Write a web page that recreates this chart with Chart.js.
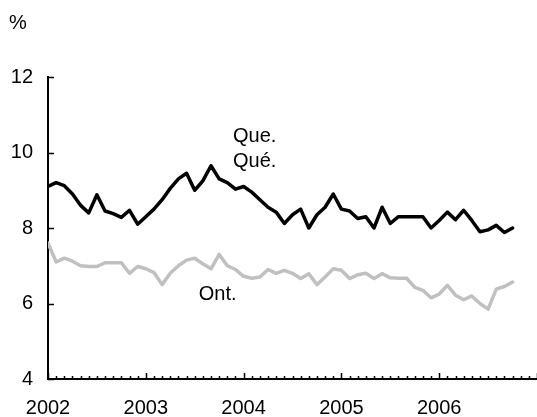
<!DOCTYPE html>
<html>
<head>
<meta charset="utf-8">
<script src="https://cdn.jsdelivr.net/npm/chart.js@4/dist/chart.umd.min.js"></script>
<style>
  html, body { margin: 0; padding: 0; background: #fff; }
  #wrap { position: relative; width: 537px; height: 417px; }
</style>
</head>
<body>
<div id="wrap"><canvas id="rateChart"></canvas></div>
<script>
// monthly rates, Jan 2002 onward
const startYear = 2002;
const queRate = [
  9.1, 9.2, 9.12, 8.9, 8.6, 8.4, 8.88, 8.45, 8.38, 8.28, 8.47, 8.1,
  8.3, 8.5, 8.75, 9.05, 9.3, 9.45, 9.0, 9.25, 9.65, 9.3, 9.2, 9.03,
  9.1, 8.95, 8.75, 8.55, 8.42, 8.12, 8.35, 8.5, 8.0, 8.35, 8.55, 8.9,
  8.5, 8.45, 8.25, 8.3, 8.0, 8.55, 8.12, 8.3, 8.3, 8.3, 8.3, 8.0,
  8.2, 8.42, 8.22, 8.47, 8.2, 7.9, 7.95, 8.07, 7.88, 8.0
];
const ontRate = [
  7.6, 7.1, 7.2, 7.12, 7.0, 6.98, 6.98, 7.08, 7.08, 7.08, 6.8, 6.98,
  6.92, 6.82, 6.5, 6.8, 7.0, 7.15, 7.2, 7.05, 6.92, 7.3, 7.0, 6.9,
  6.72, 6.67, 6.7, 6.9, 6.8, 6.88, 6.8, 6.66, 6.79, 6.5, 6.7, 6.92,
  6.88, 6.66, 6.76, 6.8, 6.66, 6.79, 6.68, 6.67, 6.67, 6.43, 6.35, 6.15,
  6.25, 6.48, 6.22, 6.1, 6.2, 6.0, 5.85, 6.38, 6.45, 6.57
];
const yearLabels = ["2002", "2003", "2004", "2005", "2006"];
const yTicks = [4, 6, 8, 10, 12];

const FONT = "'Liberation Sans', Arial, Helvetica, sans-serif";

function toPoints(values) {
  return values.map((v, i) => ({ x: i, y: v }));
}

// inward tick marks, series labels and the unit
const decorations = {
  id: "decorations",
  afterDraw(chart) {
    const { ctx, scales: { x, y } } = chart;
    ctx.save();
    ctx.strokeStyle = "#000";
    ctx.lineWidth = 1.5;
    ctx.beginPath();
    for (let m = 0; m <= 60; m++) {
      const px = Math.round(x.getPixelForValue(m)) + 0.5;
      const len = m % 12 === 0 ? 6 : 3;
      ctx.moveTo(px, y.bottom);
      ctx.lineTo(px, y.bottom - len);
    }
    yTicks.forEach((v) => {
      const py = Math.round(y.getPixelForValue(v)) + 0.5;
      ctx.moveTo(x.left, py);
      ctx.lineTo(x.left + 6, py);
    });
    ctx.stroke();

    ctx.fillStyle = "#000";
    ctx.font = "20px " + FONT;
    ctx.textAlign = "left";
    ctx.textBaseline = "alphabetic";
    ctx.fillText("Que.", x.getPixelForValue(22.7), y.getPixelForValue(10.27));
    ctx.fillText("Qué.", x.getPixelForValue(22.7), y.getPixelForValue(9.61));
    ctx.fillText("Ont.", x.getPixelForValue(18.5), y.getPixelForValue(6.08));
    ctx.fillText("%", 9, 29);
    ctx.restore();
  }
};

new Chart(document.getElementById("rateChart"), {
  type: "line",
  data: {
    datasets: [
      {
        label: "Ont.",
        data: toPoints(ontRate),
        borderColor: "#c0c0c0",
        borderWidth: 3.5,
        pointRadius: 0,
        tension: 0,
        borderJoinStyle: "round",
        borderCapStyle: "round"
      },
      {
        label: "Que. / Qué.",
        data: toPoints(queRate),
        borderColor: "#000000",
        borderWidth: 3.5,
        pointRadius: 0,
        tension: 0,
        borderJoinStyle: "round",
        borderCapStyle: "round"
      }
    ]
  },
  options: {
    responsive: true,
    maintainAspectRatio: false,
    animation: false,
    layout: { padding: { top: 77, right: 0, bottom: 0, left: 0 } },
    plugins: {
      legend: { display: false },
      tooltip: { enabled: false }
    },
    scales: {
      x: {
        type: "linear",
        min: 0,
        max: 60,
        afterFit(scale) { scale.height = 38; },
        ticks: {
          stepSize: 12,
          autoSkip: false,
          maxRotation: 0,
          padding: 0,
          color: "#000",
          font: { family: FONT, size: 20 },
          callback: (v) => yearLabels[v / 12] || ""
        },
        // tickLength only spaces the labels; the marks themselves are drawn by the plugin
        grid: { display: false, drawTicks: true, tickLength: 17 },
        border: { display: true, color: "#000", width: 2 }
      },
      y: {
        min: 4,
        max: 12,
        afterFit(scale) { scale.width = 48; },
        ticks: {
          stepSize: 2,
          padding: 0,
          color: "#000",
          font: { family: FONT, size: 20 }
        },
        grid: { display: false, drawTicks: true, tickLength: 15 },
        border: { display: true, color: "#000", width: 2 }
      }
    }
  },
  plugins: [decorations]
});
</script>
</body>
</html>
